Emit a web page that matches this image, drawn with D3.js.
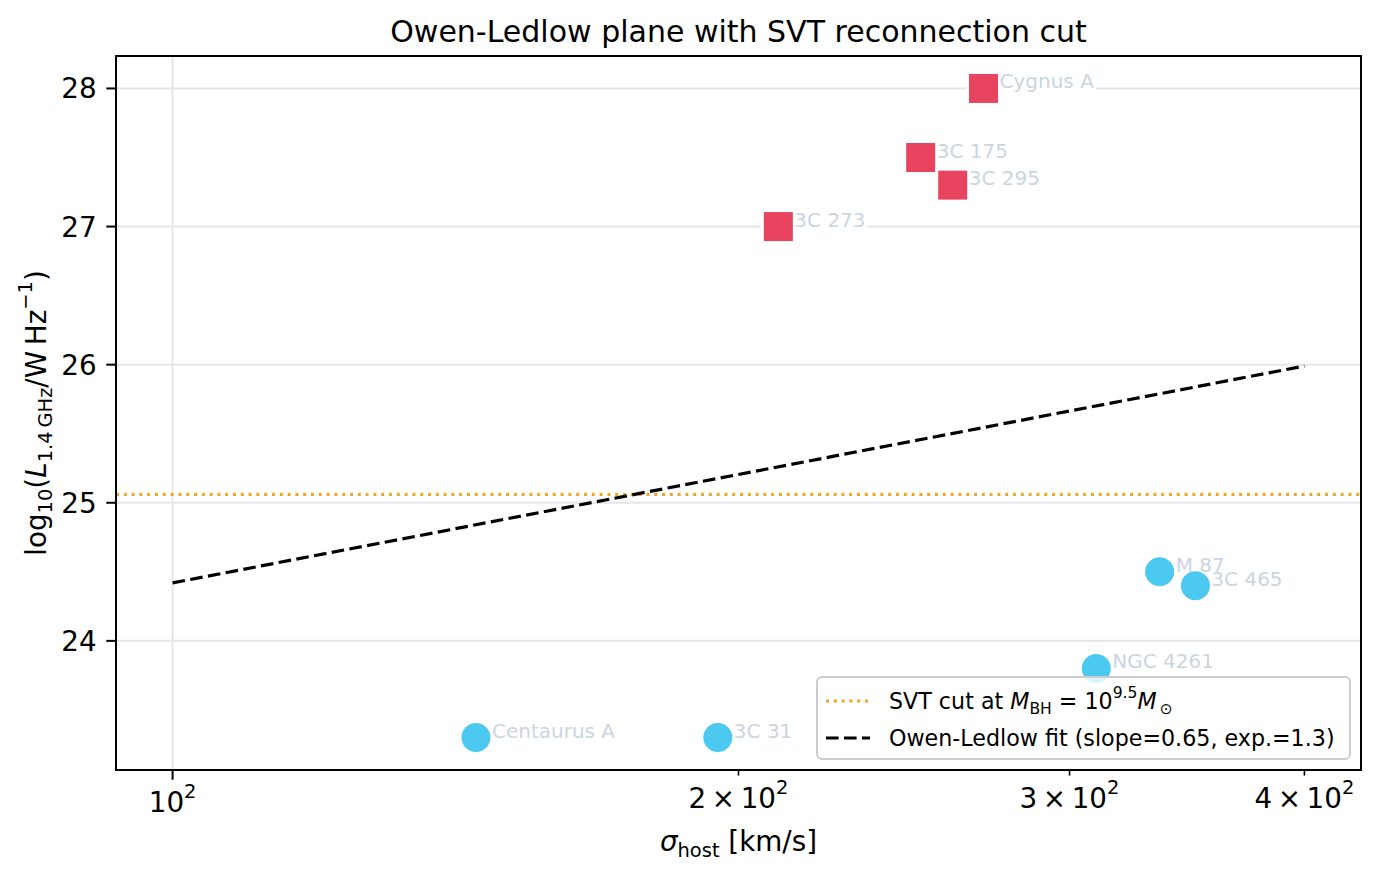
<!DOCTYPE html>
<html><head><meta charset="utf-8">
<script src="https://cdn.jsdelivr.net/npm/d3@7"></script>
<style>body{margin:0;background:#fff} text{font-family:"DejaVu Sans",sans-serif}</style>
</head><body><svg id="c" width="1379" height="876"></svg>
<script>
// ---- data ----
const aboveNames = ["Cygnus A", "3C 175", "3C 295", "3C 273"];
const aboveSigma = [270, 250, 260, 210];
const aboveLogL  = [28.0, 27.5, 27.3, 27.0];
const belowNames = ["M 87", "3C 465", "NGC 4261", "Centaurus A", "3C 31"];
const belowSigma = [335, 350, 310, 145, 195];
const belowLogL  = [24.5, 24.4, 23.8, 23.3, 23.3];
const fitSigma = [100, 400];
const fitLogL  = [24.42, 25.99];
const svtCut = 25.06;
const yTicks = [24, 25, 26, 27, 28];
const xMajorTicks = [100];
const xMinorTicks = [200, 300, 400];
const xMinorMant = ["2", "3", "4"];

// ---- layout ----
const L = 116, R = 1361, T = 56, B = 770;
const svg = d3.select("#c");
svg.append("rect").attr("width", 1379).attr("height", 876).attr("fill", "#fff");

const lo = Math.log10(d3.min(fitSigma)), hi = Math.log10(d3.max(fitSigma));
const mx = 0.05 * (hi - lo);
const x = d3.scaleLog().domain([10 ** (lo - mx), 10 ** (hi + mx)]).range([L, R]);
const allL = aboveLogL.concat(belowLogL);
const yl = d3.min(allL), yh = d3.max(allL), my = 0.05 * (yh - yl);
const y = d3.scaleLinear().domain([yl - my, yh + my]).range([B, T]);

function addMath(sel, parts, F) {
  let cur = 0;
  parts.forEach(p => {
    const target = p.pos === "sub" ? 0.22 * F : p.pos === "sup" ? -0.5 * F : 0;
    const ts = sel.append("tspan").text(p.t);
    if (target - cur !== 0) ts.attr("dy", target - cur);
    cur = target;
    if (p.pos) ts.attr("font-size", 0.7 * F);
    if (p.i) ts.attr("font-style", "italic");
  });
}

const GRID = "#e6e6e6";
// grid
svg.append("g").selectAll("line").data(yTicks).join("line")
  .attr("x1", L).attr("x2", R).attr("y1", d => y(d)).attr("y2", d => y(d))
  .attr("stroke", GRID).attr("stroke-width", 2);
svg.append("g").selectAll("line").data(xMajorTicks).join("line")
  .attr("x1", d => x(d)).attr("x2", d => x(d)).attr("y1", T).attr("y2", B)
  .attr("stroke", GRID).attr("stroke-width", 2);

// SVT cut
svg.append("line").attr("x1", L).attr("x2", R).attr("y1", y(svtCut)).attr("y2", y(svtCut))
  .attr("stroke", "#f5a51d").attr("stroke-width", 2.8).attr("stroke-dasharray", "3,4.8");

// fit line
const line = d3.line().x((d, i) => x(fitSigma[i])).y(d => y(d));
svg.append("path").attr("d", line(fitLogL)).attr("fill", "none")
  .attr("stroke", "#000").attr("stroke-width", 3.2).attr("stroke-dasharray", "12.6,5.4");

// label boxes + texts (boxes drawn before markers)
const LBL = "#cbd5e1";
const labelLayer = svg.append("g");
const markerLayer = svg.append("g");
const textLayer = svg.append("g");
function addLabel(name, sx, ly) {
  const t = textLayer.append("text").attr("x", x(sx) + 16).attr("y", y(ly))
    .attr("font-size", 20).attr("fill", LBL).text(name);
  const bb = t.node().getBBox();
  labelLayer.append("rect").attr("x", bb.x - 2).attr("y", bb.y - 1)
    .attr("width", bb.width + 4).attr("height", bb.height + 2).attr("fill", "#fff");
}
const RED = "#e9445f", BLUE = "#4cc9f0";
aboveNames.forEach((n, i) => {
  markerLayer.append("rect")
    .attr("x", x(aboveSigma[i]) - 16).attr("y", y(aboveLogL[i]) - 16)
    .attr("width", 32).attr("height", 32)
    .attr("fill", RED).attr("stroke", "#fff").attr("stroke-width", 3);
  addLabel(n, aboveSigma[i], aboveLogL[i]);
});
belowNames.forEach((n, i) => {
  markerLayer.append("circle")
    .attr("cx", x(belowSigma[i])).attr("cy", y(belowLogL[i])).attr("r", 16)
    .attr("fill", BLUE).attr("stroke", "#fff").attr("stroke-width", 3);
  addLabel(n, belowSigma[i], belowLogL[i]);
});

// spines
svg.append("rect").attr("x", L).attr("y", T).attr("width", R - L).attr("height", B - T)
  .attr("fill", "none").attr("stroke", "#000").attr("stroke-width", 2);

// y ticks
const F = 27.8;
const yt = svg.append("g");
yTicks.forEach(v => {
  yt.append("line").attr("x1", L - 9.7).attr("x2", L).attr("y1", y(v)).attr("y2", y(v))
    .attr("stroke", "#000").attr("stroke-width", 2);
  yt.append("text").attr("x", L - 19.4).attr("y", y(v) + 10).attr("text-anchor", "end")
    .attr("font-size", F).text(v);
});
// x ticks
const xt = svg.append("g");
xMajorTicks.forEach(v => {
  xt.append("line").attr("x1", x(v)).attr("x2", x(v)).attr("y1", B).attr("y2", B + 9.7)
    .attr("stroke", "#000").attr("stroke-width", 2);
  const t = xt.append("text").attr("x", x(v)).attr("y", B + 42).attr("text-anchor", "middle").attr("font-size", F);
  addMath(t, [{t: "10"}, {t: String(Math.round(Math.log10(v))), pos: "sup"}], F);
});
xMinorTicks.forEach((v, i) => {
  xt.append("line").attr("x1", x(v)).attr("x2", x(v)).attr("y1", B).attr("y2", B + 5.6)
    .attr("stroke", "#000").attr("stroke-width", 1.6);
  const t = xt.append("text").attr("x", x(v)).attr("y", B + 38).attr("text-anchor", "middle").attr("font-size", F);
  addMath(t, [{t: xMinorMant[i] + "\u2009\u00d7\u200910"}, {t: "2", pos: "sup"}], F);
});

// axis labels
const xl = svg.append("text").attr("x", (L + R) / 2).attr("y", 851).attr("text-anchor", "middle").attr("font-size", F);
addMath(xl, [{t: "\u03c3", i: true}, {t: "host", pos: "sub"}, {t: " [km/s]"}], F);

const ylab = svg.append("text").attr("transform", `translate(46,${(T + B) / 2}) rotate(-90)`)
  .attr("text-anchor", "middle").attr("font-size", F);
addMath(ylab, [{t: "log"}, {t: "10", pos: "sub"}, {t: "("}, {t: "L", i: true},
  {t: "1.4\u2009GHz", pos: "sub"}, {t: "/W\u2009Hz"}, {t: "\u22121", pos: "sup"}, {t: ")"}], F);

// title
svg.append("text").attr("x", (L + R) / 2).attr("y", 42).attr("text-anchor", "middle")
  .attr("font-size", 30).text("Owen-Ledlow plane with SVT reconnection cut");

// legend
const lg = svg.append("g");
const LF = 22.2;
lg.append("rect").attr("x", 817).attr("y", 677).attr("width", 533).attr("height", 82)
  .attr("rx", 5).attr("fill", "#fff").attr("fill-opacity", 0.8)
  .attr("stroke", "#cccccc").attr("stroke-width", 2);
lg.append("line").attr("x1", 826).attr("x2", 870).attr("y1", 701).attr("y2", 701)
  .attr("stroke", "#f5a51d").attr("stroke-width", 2.8).attr("stroke-dasharray", "3,4.8");
lg.append("line").attr("x1", 826).attr("x2", 870).attr("y1", 738).attr("y2", 738)
  .attr("stroke", "#000").attr("stroke-width", 3.2).attr("stroke-dasharray", "12.6,5.4");
const lt1 = lg.append("text").attr("x", 889).attr("y", 709).attr("font-size", LF);
addMath(lt1, [{t: "SVT cut at "}, {t: "M", i: true}, {t: "BH", pos: "sub"}, {t: " = 10"},
  {t: "9.5", pos: "sup"}, {t: "M", i: true}, {t: "\u2009\u2299", pos: "sub"}], LF);
lg.append("text").attr("x", 889).attr("y", 746).attr("font-size", LF)
  .text("Owen-Ledlow fit (slope=0.65, exp.=1.3)");
</script></body></html>
